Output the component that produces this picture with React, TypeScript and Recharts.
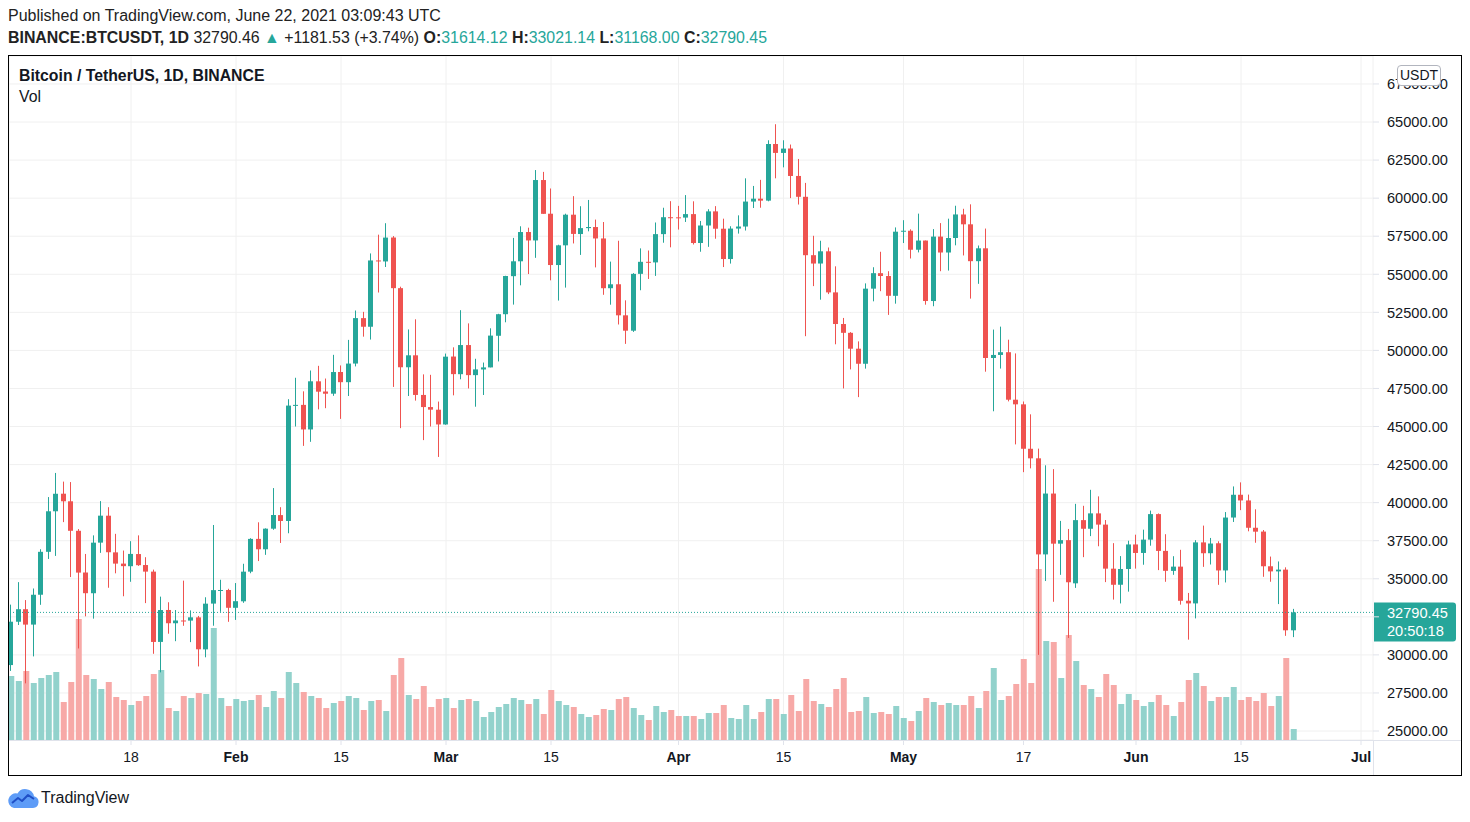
import React from "react";
import { ComposedChart, Bar, XAxis, YAxis, CartesianGrid, ReferenceLine, Cell } from "recharts";

// Daily candles BTCUSDT, first candle = 2 Jan 2021 (day 1 counted from 1 Jan)
const FIRST_DAY = 1;

const OPEN = [
  29331,32176,33000,31989,33950,36769,39432,40586,40088,38150,35410,34049,37372,39141,36733,35995,35824,36622,35901,35468,30852,32950,32078,32259,32251,32464,30362,33368,34247,34262,
  33092,33518,35467,37619,36936,38289,39181,38795,46374,46420,44807,47968,47298,47156,48580,47911,49134,52118,51552,55907,55841,57413,54087,48891,49676,47073,46277,46103,
  45134,49595,48436,50349,48374,48746,48882,50959,52376,54874,55851,57773,57221,61188,58976,55605,56900,58912,57641,58030,58101,57351,54083,54342,52303,51293,55026,55817,55778,57635,58746,
  58739,58720,58950,57052,58202,59130,57991,56000,58000,58135,59774,59964,59835,63554,62969,63259,61456,60087,56252,55704,56507,53809,51731,51153,50110,49121,54054,55071,54884,53584,
  57797,57858,56610,57214,53241,57473,56428,57380,58926,58280,55859,56704,49500,49700,49880,46760,46456,43538,42910,36600,40596,37304,37536,34700,38850,38284,39294,38556,35662,34606,35642,
  37253,36695,37569,39246,36830,35517,35796,33556,33381,37388,36677,37331,35546,39021,40516,40143,38349,38098,35820,35483,35600,31614.12,
];
const HIGH = [
  33300,34778,33600,34360,36939,40365,41950,41380,41350,38264,36628,37850,40100,39700,37950,36852,37469,37850,36415,35600,33826,33456,32944,34875,32921,32557,33783,38531,34933,34342,
  34717,35984,37662,38708,38310,40955,39700,46794,48200,47310,48678,48985,48150,49707,49010,50689,52619,52530,56368,57600,58352,57508,54183,51375,52041,48424,48394,46638,
  49790,50200,52640,51773,49448,49200,51450,52402,54900,57387,58150,58058,61844,61724,60633,56938,58977,60129,59468,59880,58591,58430,55830,57200,53287,55073,56700,56559,58400,59368,59800,
  59490,60200,59791,58500,59272,59474,58650,58153,58869,61300,60800,61199,63800,64854,63800,63520,62572,61000,57526,57200,56757,55521,52130,51200,50591,54400,55460,56476,55200,58075,
  58550,57950,58981,57214,57965,58360,58650,59500,59300,59592,56888,58000,51367,51560,50700,49800,46643,45799,43547,42451,42200,38800,38270,39920,39791,40841,40411,38856,37338,36488,37499,
  37895,38225,39476,39289,37925,36480,36900,34068,37534,38491,37680,37463,39380,41064,41330,40527,39560,38200,36457,36137,35750,33021.14,
];
const LOW = [
  28946,31962,28130,29900,33288,36300,36500,38720,35111,30420,32531,32380,36701,34408,35357,33850,34800,35844,33400,30071,28850,31390,30900,31910,30837,29241,29842,31915,32825,32171,
  32296,33418,35362,36161,36570,38216,37351,37988,45000,43727,43994,46125,46202,47014,45500,47003,48947,50901,50710,53800,55477,47600,44892,47003,46700,44106,45000,43000,
  45115,47047,48100,47500,46300,47070,48882,49274,51845,53005,54273,55013,56078,58967,54600,53271,54123,57023,56270,57820,55450,53650,53000,51700,50427,51214,53950,54691,54891,57071,56769,
  57935,58434,56955,56478,56800,57333,55473,55700,57670,57871,59350,59369,59791,61301,62021,60000,59580,50931,54221,53329,53696,50400,47500,48750,46930,48801,53222,53887,52330,53068,
  57050,56035,56435,53000,52900,55200,55241,56900,56235,53400,54370,48600,46000,48805,46650,43825,42001,42250,30000,34850,33488,35257,31111,34400,36419,37800,37134,34779,33632,33379,34153,
  35666,35920,37171,35567,34800,35258,33300,31000,32396,35782,35936,34600,34757,38730,39506,38116,37365,35129,34803,33336,31251,31168,
];
const CLOSE = [
  32178,33000,31988,33949,36769,39432,40582,40088,38150,35404,34051,37371,39144,36742,35994,35828,36631,35891,35468,30850,32945,32078,32259,32254,32467,30366,33364,34252,34262,33093,
  33526,35466,37618,36936,38290,39186,38795,46374,46420,44807,47969,47287,47153,48577,47911,49133,52119,51552,55906,55841,57408,54087,48891,49676,47073,46276,46106,45135,
  49587,48440,50349,48374,48751,48882,50971,52375,54884,55851,57773,57221,61188,58968,55605,56900,58912,57649,58030,58102,57351,54083,54340,52303,51293,55025,55817,55777,57635,58746,58740,
  58720,58950,57051,58202,59130,57991,56000,58000,58135,59774,59964,59834,63554,62970,63252,61455,60087,56252,55703,56508,53808,51731,51153,50110,49121,54054,55071,54884,53584,57796,
  57858,56610,57213,53242,57473,56428,57380,58928,58280,55859,56704,49500,49700,49880,46760,46456,43538,42909,36600,40596,37304,37536,34770,38850,38284,39294,38556,35664,34605,35641,37253,
  36694,37569,39246,36829,35520,35796,33552,33381,37389,36676,37313,35546,39020,40516,40144,38349,38092,35820,35483,35600,31614,32790.45,
];
// volume (relative units)
const VOLUME = [
  64,59,69,57,62,65,68,38,58,121,65,61,51,58,43,40,35,39,44,66,70,32,29,44,42,47,46,112,42,34,
  41,39,40,45,33,49,42,68,57,48,44,42,32,37,39,44,42,30,39,40,29,65,82,45,41,54,33,41,
  42,32,40,41,39,23,28,33,36,42,40,36,41,26,50,39,35,33,26,23,25,31,30,41,43,32,25,20,34,28,30,
  24,24,24,21,27,27,35,22,21,35,21,28,41,41,26,45,29,61,39,36,33,51,62,28,29,43,27,28,26,34,
  22,19,29,42,38,35,37,35,35,44,32,49,72,40,44,56,81,57,171,99,98,62,105,79,55,51,43,66,55,36,46,
  40,34,38,45,35,24,38,60,67,54,39,43,43,53,40,43,39,47,34,44,82,11,
];

const TICK_DAYS = [17, 31, 45, 59, 73, 90, 104, 120, 136, 151, 165, 181];
const TICK_LABELS = ["18", "Feb", "15", "Mar", "15", "Apr", "15", "May", "17", "Jun", "15", "Jul"];
const PRICE_TICKS = [25000, 27500, 30000, 32500, 35000, 37500, 40000, 42500, 45000, 47500, 50000, 52500, 55000, 57500, 60000, 62500, 65000, 67500];
const PRICE_DOMAIN = [24409, 69335];
const DAY_DOMAIN = [0.73, 182.6];
const VOL_DOMAIN = [0, 684];
const LAST_PRICE = 32790.45;
const COUNTDOWN = "20:50:18";

const UP = "#26a69a";
const DOWN = "#ef5350";
const UP_VOL = "#92d2cc";
const DOWN_VOL = "#f7a9a7";
const GRID = "#f0f0f0";
const TEXT = "#131722";
const FONT = "'Liberation Sans', Arial, sans-serif";

const data = OPEN.map((o, i) => ({
  d: FIRST_DAY + i,
  open: o,
  high: HIGH[i],
  low: LOW[i],
  close: CLOSE[i],
  vol: VOLUME[i],
}));

const Candle = (props: any) => {
  const { x, y, width, height, payload } = props;
  if (x == null || y == null || !payload) return null;
  const { open, close, high, low } = payload;
  const top = Math.min(y, y + height);
  const h = Math.abs(height);
  const span = high - low || 1;
  const py = (p: number) => top + ((high - p) / span) * h;
  const color = close >= open ? UP : DOWN;
  const left = Math.round(x);
  const cx = left + Math.round(width) / 2;
  const bTop = py(Math.max(open, close));
  const bBot = py(Math.min(open, close));
  return (
    <g>
      <line x1={cx} x2={cx} y1={top} y2={top + h} stroke={color} strokeWidth={1} />
      <rect x={left} y={bTop} width={Math.round(width)} height={Math.max(1, bBot - bTop)} fill={color} />
    </g>
  );
};

const XTick = (props: any) => {
  const { x, y, payload } = props;
  const idx = TICK_DAYS.indexOf(payload.value);
  const label = idx >= 0 ? TICK_LABELS[idx] : "";
  const isMonth = /[A-Za-z]/.test(label);
  return (
    <text x={x} y={y} dy={15} textAnchor="middle" fill={TEXT} fontSize={14} fontWeight={isMonth ? 700 : 400} fontFamily={FONT}>
      {label}
    </text>
  );
};

const YTick = (props: any) => {
  const { x, y, payload } = props;
  if (Math.abs(payload.value - LAST_PRICE) < 1500) return null;
  return (
    <text x={x} y={y} dy="0.36em" textAnchor="start" fill={TEXT} fontSize={14.6} fontFamily={FONT}>
      {Number(payload.value).toFixed(2)}
    </text>
  );
};

const PriceTag = (props: any) => {
  const vb = props.viewBox || {};
  const x = (vb.x ?? 0) + (vb.width ?? 0) + 1;
  const y = vb.y ?? 0;
  return (
    <g>
      <path d={`M${x},${y - 10} h79 a3,3 0 0 1 3,3 v33 a3,3 0 0 1 -3,3 h-79 z`} fill={UP} />
      <text x={x + 13} y={y} dy="0.36em" fill="#ffffff" fontSize={14.6} fontFamily={FONT}>
        {LAST_PRICE.toFixed(2)}
      </text>
      <text x={x + 13} y={y + 18} dy="0.36em" fill="#ffffff" fontSize={14.6} fontFamily={FONT}>
        {COUNTDOWN}
      </text>
    </g>
  );
};

const teal = { color: UP };
const bold = { fontWeight: 700 };

export default function App() {
  return (
    <div style={{ position: "absolute", left: 0, top: 0, width: 1470, height: 822, background: "#fff", fontFamily: FONT, color: TEXT, overflow: "hidden" }}>
      <div style={{ position: "absolute", left: 8, top: 7, fontSize: 16, lineHeight: "18px", whiteSpace: "nowrap", color: "#222" }}>
        Published on TradingView.com, June 22, 2021 03:09:43 UTC
      </div>
      <div style={{ position: "absolute", left: 8, top: 29, fontSize: 15.9, lineHeight: "18px", whiteSpace: "nowrap", color: "#222" }}>
        <span style={bold}>BINANCE:BTCUSDT, 1D</span> 32790.46 <span style={teal}>▲</span> +1181.53 (+3.74%){" "}
        <span style={bold}>O:</span><span style={teal}>31614.12</span>{" "}
        <span style={bold}>H:</span><span style={teal}>33021.14</span>{" "}
        <span style={bold}>L:</span><span style={teal}>31168.00</span>{" "}
        <span style={bold}>C:</span><span style={teal}>32790.45</span>
      </div>

      <div style={{ position: "absolute", left: 8, top: 55, width: 1454, height: 721, border: "1px solid #000", boxSizing: "border-box" }} />

      <div style={{ position: "absolute", left: 9, top: 56 }}>
        <ComposedChart width={1452} height={719} data={data} margin={{ top: 0, right: 0, bottom: 0, left: 0 }}>
          <CartesianGrid xAxisId="price" yAxisId="price" stroke={GRID} />
          <XAxis
            xAxisId="price"
            dataKey="d"
            type="number"
            domain={DAY_DOMAIN}
            allowDataOverflow
            ticks={TICK_DAYS}
            interval={0}
            height={35}
            axisLine={false}
            tickLine={{ stroke: "#e0e3eb" }}
            tickSize={5}
            tickMargin={2}
            tick={(p: any) => <XTick {...p} />}
          />
          <XAxis xAxisId="vol" dataKey="d" type="number" domain={DAY_DOMAIN} allowDataOverflow hide />
          <YAxis
            yAxisId="price"
            orientation="right"
            width={88}
            type="number"
            domain={PRICE_DOMAIN}
            allowDataOverflow
            ticks={PRICE_TICKS}
            interval={0}
            axisLine={false}
            tickLine={{ stroke: "#e0e3eb" }}
            tickSize={6}
            tickMargin={8}
            tick={(p: any) => <YTick {...p} />}
          />
          <YAxis yAxisId="vol" domain={VOL_DOMAIN} allowDataOverflow hide />
          <Bar xAxisId="vol" yAxisId="vol" dataKey="vol" barSize={6} isAnimationActive={false}>
            {data.map((e, i) => (
              <Cell key={i} fill={e.close >= e.open ? UP_VOL : DOWN_VOL} />
            ))}
          </Bar>
          <Bar
            xAxisId="price"
            yAxisId="price"
            dataKey={(e: any) => [e.low, e.high]}
            barSize={5}
            isAnimationActive={false}
            shape={(p: any) => <Candle {...p} />}
          />
          <ReferenceLine
            xAxisId="price"
            yAxisId="price"
            y={LAST_PRICE}
            stroke={UP}
            strokeDasharray="1 2"
            label={(p: any) => <PriceTag {...p} />}
          />
        </ComposedChart>
      </div>

      <div style={{ position: "absolute", left: 9, top: 740, width: 1452, height: 1, background: "#e0e3eb" }} />
      <div style={{ position: "absolute", left: 1373, top: 740, width: 1, height: 35, background: "#e0e3eb" }} />

      <div style={{ position: "absolute", left: 19, top: 67, fontSize: 15.8, fontWeight: 700, lineHeight: "18px", whiteSpace: "nowrap" }}>
        Bitcoin / TetherUS, 1D, BINANCE
      </div>
      <div style={{ position: "absolute", left: 19, top: 88, fontSize: 15.8, lineHeight: "18px" }}>Vol</div>

      <div style={{ position: "absolute", left: 1397, top: 65, width: 44, height: 21, boxSizing: "border-box", border: "1px solid #b2b5be", borderRadius: 4, background: "#fff", fontSize: 14, lineHeight: "19px", textAlign: "center" }}>
        USDT
      </div>

      <svg style={{ position: "absolute", left: 7, top: 788 }} width={33} height={21} viewBox="0 0 33 21">
        <path d="M7 20 H26 A6 6 0 0 0 27 8.2 A9 9 0 0 0 10.5 5.5 A7 7 0 0 0 7 20 Z" fill="#5e9cf7" />
        <path d="M5 15 L11 10 L15 13 L21 7 L27 11" stroke="#1f4fc7" strokeWidth={2} fill="none" strokeLinejoin="round" />
      </svg>
      <div style={{ position: "absolute", left: 41, top: 789, fontSize: 16, lineHeight: "18px", color: "#131722" }}>TradingView</div>
    </div>
  );
}
